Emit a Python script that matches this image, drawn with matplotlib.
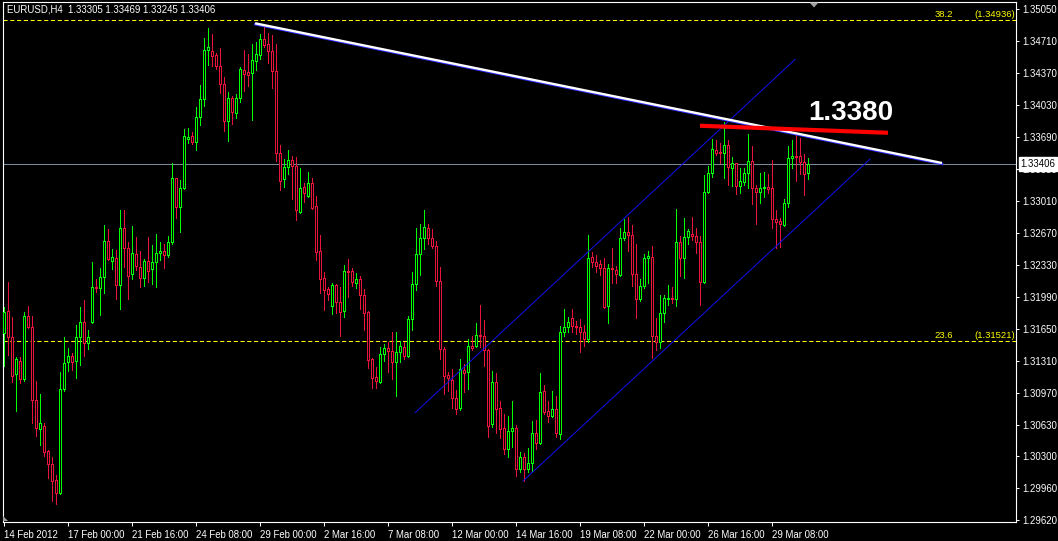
import matplotlib
matplotlib.use('Agg')
import matplotlib.pyplot as plt
import matplotlib.transforms as mtransforms
from matplotlib.patches import Polygon

# EURUSD H4 candles (bar 0 = 14 Feb 2012 08:00)
opens = [
    1.3161, 1.3184, 1.3156, 1.3117, 1.3131, 1.3112, 1.3179, 1.3167, 1.3090, 1.3059,
    1.3062, 1.3035, 1.3022, 1.3005, 1.2991, 1.3101, 1.3130, 1.3136, 1.3131, 1.3157,
    1.3172, 1.3150, 1.3172, 1.3210, 1.3209, 1.3220, 1.3259, 1.3237, 1.3240, 1.3212,
    1.3272, 1.3251, 1.3224, 1.3245, 1.3231, 1.3219, 1.3237, 1.3229, 1.3236, 1.3246,
    1.3248, 1.3244, 1.3257, 1.3326, 1.3295, 1.3315, 1.3367, 1.3370, 1.3364, 1.3390,
    1.3410, 1.3462, 1.3461, 1.3456, 1.3445, 1.3425, 1.3386, 1.3411, 1.3395, 1.3411,
    1.3440, 1.3438, 1.3437, 1.3450, 1.3456, 1.3473, 1.3468, 1.3461, 1.3439, 1.3352,
    1.3325, 1.3337, 1.3345, 1.3338, 1.3289, 1.3316, 1.3306, 1.3320, 1.3296, 1.3248,
    1.3219, 1.3208, 1.3189, 1.3212, 1.3194, 1.3184, 1.3227, 1.3227, 1.3214, 1.3218,
    1.3201, 1.3183, 1.3133, 1.3114, 1.3109, 1.3138, 1.3145, 1.3142, 1.3130, 1.3141,
    1.3146, 1.3136, 1.3176, 1.3213, 1.3245, 1.3262, 1.3272, 1.3262, 1.3253, 1.3216,
    1.3144, 1.3116, 1.3111, 1.3092, 1.3081, 1.3121, 1.3119, 1.3147, 1.3147, 1.3159,
    1.3158, 1.3143, 1.3064, 1.3109, 1.3081, 1.3060, 1.3037, 1.3057, 1.3060, 1.3016,
    1.3029, 1.3016, 1.3023, 1.3054, 1.3044, 1.3099, 1.3078, 1.3073, 1.3080, 1.3053,
    1.3162, 1.3167, 1.3177, 1.3168, 1.3167, 1.3162, 1.3154, 1.3242, 1.3236, 1.3234,
    1.3230, 1.3189, 1.3230, 1.3228, 1.3222, 1.3262, 1.3268, 1.3265, 1.3224, 1.3197,
    1.3211, 1.3240, 1.3242, 1.3158, 1.3151, 1.3182, 1.3197, 1.3198, 1.3197, 1.3258,
    1.3240, 1.3263, 1.3266, 1.3264, 1.3257, 1.3215, 1.3311, 1.3331, 1.3355, 1.3353,
    1.3352, 1.3361, 1.3336, 1.3341, 1.3317, 1.3321, 1.3331, 1.3344, 1.3315, 1.3311,
    1.3315, 1.3316, 1.3315, 1.3282, 1.3280, 1.3276, 1.3299, 1.3347, 1.3349, 1.3349,
    1.3343, 1.33305,
]
highs = [
    1.3188, 1.3215, 1.3178, 1.3135, 1.3135, 1.3183, 1.3189, 1.3179, 1.3110, 1.3096,
    1.3065, 1.3036, 1.3029, 1.3010, 1.3119, 1.3157, 1.3145, 1.3140, 1.3169, 1.3188,
    1.3196, 1.3164, 1.3236, 1.3218, 1.3230, 1.3276, 1.3271, 1.3250, 1.3249, 1.3292,
    1.3291, 1.3258, 1.3275, 1.3263, 1.3248, 1.3239, 1.3263, 1.3254, 1.3266, 1.3258,
    1.3255, 1.3264, 1.3341, 1.3326, 1.3323, 1.3378, 1.3379, 1.3374, 1.3401, 1.3424,
    1.3474, 1.3485, 1.3479, 1.3458, 1.3464, 1.3433, 1.3417, 1.3413, 1.3415, 1.3444,
    1.3462, 1.3457, 1.3468, 1.3470, 1.3479, 1.3486, 1.3480, 1.3478, 1.3468, 1.3361,
    1.3346, 1.3355, 1.3349, 1.3348, 1.3336, 1.3320, 1.3332, 1.3326, 1.3306, 1.3265,
    1.3226, 1.3210, 1.3214, 1.3213, 1.3210, 1.3233, 1.3239, 1.3230, 1.3225, 1.3221,
    1.3208, 1.3184, 1.3134, 1.3125, 1.3146, 1.3149, 1.3151, 1.3162, 1.3162, 1.3152,
    1.3151, 1.3179, 1.3226, 1.3272, 1.3277, 1.3291, 1.3277, 1.3271, 1.3259, 1.3231,
    1.3146, 1.3119, 1.3122, 1.3100, 1.3133, 1.3128, 1.3154, 1.3158, 1.3171, 1.3191,
    1.3175, 1.3144, 1.3120, 1.3118, 1.3088, 1.3075, 1.3073, 1.3088, 1.3063, 1.3034,
    1.3033, 1.3039, 1.3067, 1.3068, 1.3118, 1.3106, 1.3088, 1.3099, 1.3094, 1.3168,
    1.3186, 1.3178, 1.3186, 1.3174, 1.3176, 1.3169, 1.3265, 1.3247, 1.3244, 1.3238,
    1.3240, 1.3234, 1.3251, 1.3232, 1.3272, 1.3282, 1.3284, 1.3276, 1.3255, 1.3218,
    1.3245, 1.3248, 1.3253, 1.3177, 1.3201, 1.3201, 1.3212, 1.3210, 1.3293, 1.3264,
    1.3283, 1.3271, 1.3284, 1.3272, 1.3264, 1.3329, 1.3338, 1.3367, 1.3366, 1.3363,
    1.3385, 1.3366, 1.3348, 1.3342, 1.3336, 1.3336, 1.3372, 1.3360, 1.3318, 1.3331,
    1.3332, 1.3330, 1.3345, 1.3291, 1.3283, 1.3303, 1.3360, 1.3366, 1.3372, 1.3368,
    1.3351, 1.33469,
]
lows = [
    1.3126, 1.3137, 1.3109, 1.3078, 1.3108, 1.3110, 1.3166, 1.3065, 1.3051, 1.3042,
    1.3030, 1.3007, 1.2982, 1.2979, 1.2990, 1.3099, 1.3120, 1.3121, 1.3113, 1.3127,
    1.3136, 1.3144, 1.3171, 1.3204, 1.3180, 1.3203, 1.3238, 1.3229, 1.3197, 1.3186,
    1.3231, 1.3197, 1.3218, 1.3228, 1.3210, 1.3211, 1.3215, 1.3213, 1.3210, 1.3238,
    1.3230, 1.3242, 1.3255, 1.3283, 1.3268, 1.3314, 1.3363, 1.3362, 1.3355, 1.3382,
    1.3402, 1.3446, 1.3445, 1.3441, 1.3416, 1.3375, 1.3365, 1.3383, 1.3389, 1.3406,
    1.3418, 1.3423, 1.3387, 1.3440, 1.3452, 1.3465, 1.3448, 1.3421, 1.3344, 1.3313,
    1.3316, 1.3330, 1.3303, 1.3281, 1.3288, 1.3300, 1.3305, 1.3293, 1.3238, 1.3203,
    1.3185, 1.3196, 1.3181, 1.3182, 1.3158, 1.3178, 1.3199, 1.3211, 1.3209, 1.3186,
    1.3164, 1.3124, 1.3102, 1.3102, 1.3108, 1.3131, 1.3119, 1.3112, 1.3094, 1.3130,
    1.3133, 1.3135, 1.3164, 1.3206, 1.3222, 1.3250, 1.3255, 1.3251, 1.3211, 1.3133,
    1.3096, 1.3099, 1.3081, 1.3075, 1.3079, 1.3098, 1.3101, 1.3143, 1.3146, 1.3146,
    1.3126, 1.3050, 1.3061, 1.3054, 1.3049, 1.3032, 1.3029, 1.3040, 1.3009, 1.3013,
    1.3003, 1.3013, 1.3014, 1.3037, 1.3043, 1.3075, 1.3066, 1.3072, 1.3050, 1.3048,
    1.3158, 1.3162, 1.3162, 1.3160, 1.3141, 1.3147, 1.3151, 1.3231, 1.3226, 1.3222,
    1.3187, 1.3171, 1.3214, 1.3214, 1.3221, 1.3260, 1.3248, 1.3211, 1.3177, 1.3195,
    1.3209, 1.3214, 1.3134, 1.3143, 1.3145, 1.3172, 1.3191, 1.3193, 1.3189, 1.3221,
    1.3219, 1.3255, 1.3260, 1.3246, 1.3191, 1.3214, 1.3310, 1.3327, 1.3350, 1.3342,
    1.3326, 1.3318, 1.3317, 1.3309, 1.3310, 1.3318, 1.3315, 1.3298, 1.3277, 1.3299,
    1.3305, 1.3310, 1.3272, 1.3251, 1.3252, 1.3275, 1.3295, 1.3336, 1.3322, 1.3330,
    1.3308, 1.33245,
]
closes = [
    1.3183, 1.3156, 1.3115, 1.3133, 1.3112, 1.3179, 1.3167, 1.3090, 1.3060, 1.3065,
    1.3034, 1.3022, 1.3003, 1.2991, 1.3101, 1.3129, 1.3136, 1.3130, 1.3157, 1.3172,
    1.3150, 1.3156, 1.3210, 1.3209, 1.3220, 1.3259, 1.3239, 1.3242, 1.3212, 1.3272,
    1.3251, 1.3221, 1.3246, 1.3232, 1.3219, 1.3237, 1.3227, 1.3236, 1.3246, 1.3248,
    1.3244, 1.3257, 1.3326, 1.3295, 1.3315, 1.3370, 1.3369, 1.3364, 1.3390, 1.3410,
    1.3462, 1.3465, 1.3455, 1.3445, 1.3425, 1.3386, 1.3411, 1.3396, 1.3411, 1.3441,
    1.3436, 1.3435, 1.3451, 1.3457, 1.3473, 1.3467, 1.3461, 1.3439, 1.3352, 1.3322,
    1.3337, 1.3345, 1.3338, 1.3291, 1.3315, 1.3310, 1.3320, 1.3294, 1.3247, 1.3218,
    1.3206, 1.3202, 1.3212, 1.3194, 1.3183, 1.3227, 1.3226, 1.3215, 1.3218, 1.3201,
    1.3182, 1.3132, 1.3113, 1.3110, 1.3138, 1.3145, 1.3142, 1.3130, 1.3141, 1.3147,
    1.3136, 1.3176, 1.3213, 1.3245, 1.3262, 1.3273, 1.3262, 1.3253, 1.3216, 1.3144,
    1.3115, 1.3113, 1.3092, 1.3080, 1.3122, 1.3118, 1.3147, 1.3145, 1.3159, 1.3158,
    1.3143, 1.3062, 1.3109, 1.3080, 1.3059, 1.3037, 1.3057, 1.3060, 1.3016, 1.3029,
    1.3016, 1.3023, 1.3054, 1.3044, 1.3098, 1.3077, 1.3073, 1.3080, 1.3054, 1.3162,
    1.3167, 1.3172, 1.3168, 1.3167, 1.3162, 1.3154, 1.3240, 1.3236, 1.3232, 1.3230,
    1.3188, 1.3230, 1.3229, 1.3224, 1.3262, 1.3268, 1.3265, 1.3224, 1.3197, 1.3211,
    1.3240, 1.3243, 1.3158, 1.3151, 1.3182, 1.3198, 1.3198, 1.3197, 1.3258, 1.3240,
    1.3263, 1.3269, 1.3264, 1.3257, 1.3215, 1.3311, 1.3331, 1.3356, 1.3352, 1.3352,
    1.3361, 1.3337, 1.3341, 1.3317, 1.3322, 1.3331, 1.3344, 1.3315, 1.3311, 1.3315,
    1.3316, 1.3314, 1.3282, 1.3279, 1.3277, 1.3299, 1.3347, 1.3349, 1.3348, 1.3343,
    1.3330, 1.33406,
]

price_ticks = [1.35050, 1.34710, 1.34370, 1.34030, 1.33690, 1.33350, 1.33010, 1.32670,
               1.32330, 1.31990, 1.31650, 1.31310, 1.30970, 1.30630, 1.30300, 1.29960, 1.29620]
time_labels = ['14 Feb 2012', '17 Feb 00:00', '21 Feb 16:00', '24 Feb 08:00', '29 Feb 00:00',
               '2 Mar 16:00', '7 Mar 08:00', '12 Mar 00:00', '14 Mar 16:00', '19 Mar 08:00',
               '22 Mar 00:00', '26 Mar 16:00', '29 Mar 08:00']

fib_levels = [1.34936, 1.31521]
fib_names = ['38.2', '23.6']
last_price = 1.33406

# drawn objects (bar index, price)
trend_bars = [62.9, 234.6]
trend_prices = [1.34900, 1.33415]
chan_up_bars = [102.9, 197.9]
chan_up_prices = [1.30761, 1.34517]
chan_lo_bars = [129.9, 216.6]
chan_lo_prices = [1.30035, 1.33457]
res_bars = [174.1, 221.1]
res_prices = [1.33811, 1.33736]
res_label = '1.3380'

BULL = '#00FF00'
BEAR = '#E8143C'
W, H = 1058, 541

fig = plt.figure(figsize=(W / 100, H / 100), dpi=100, facecolor='black')
ax = fig.add_axes([2.5 / W, 19 / H, 1013.5 / W, 520 / H])
ax.set_facecolor('black')

idx = list(range(len(opens)))
cols = [BULL if c > o else BEAR for o, c in zip(opens, closes)]
bottoms = [min(o, c) for o, c in zip(opens, closes)]
heights = [max(abs(c - o), 0.00002) for o, c in zip(opens, closes)]

# hollow bodies: coloured outline, black inside
ax.vlines(idx, lows, highs, colors=cols, linewidth=0.72, antialiased=False, zorder=2)
ax.bar(idx, heights, bottom=bottoms, width=0.5, color='black', edgecolor=cols,
       linewidth=0.72, antialiased=False, zorder=3)

# fibo levels
bt = mtransforms.blended_transform_factory(ax.transAxes, ax.transData)
for lvl, name in zip(fib_levels, fib_names):
    ax.axhline(lvl, color='#FFFF00', linewidth=0.75, linestyle=(0, (4, 2.5)), zorder=1)
    ax.text(0.9378, lvl + 0.00012, name, transform=bt, color='#FFFF00', fontsize=6.8,
            family='Liberation Sans', ha='right', va='bottom')
    ax.text(0.9995, lvl + 0.00012, '(%.5f)' % lvl, transform=bt, color='#FFFF00',
            fontsize=6.8, family='Liberation Sans', ha='right', va='bottom')

# current price line
ax.axhline(last_price, color='#778899', linewidth=0.75, zorder=1)

# channel
ax.plot(chan_up_bars, chan_up_prices, color='#1010F0', linewidth=0.7, zorder=4)
ax.plot(chan_lo_bars, chan_lo_prices, color='#1010F0', linewidth=0.7, zorder=4)

# trendline (white, blue shade below)
shift = mtransforms.offset_copy(ax.transData, fig=fig, x=0, y=-1, units='dots')
ax.plot(trend_bars, trend_prices, color='#3030FF', linewidth=1.7, transform=shift, zorder=5)
ax.plot(trend_bars, trend_prices, color='white', linewidth=1.7, zorder=6,
        solid_capstyle='butt')

# resistance
ax.plot(res_bars, res_prices, color='#FF0000', linewidth=3.0, zorder=7, solid_capstyle='butt')
ax.text(211.9, 1.33945, res_label, color='white', fontsize=20, fontweight='bold',
        family='Liberation Sans', ha='center', va='center', zorder=8)

ax.set_xlim(-0.25, 253.1)
ax.set_ylim(1.295987, 1.351263)

for s in ax.spines.values():
    s.set_color('white')
    s.set_linewidth(0.8)

ax.yaxis.tick_right()
ax.set_yticks(price_ticks)
ax.set_yticklabels(['%.5f' % p for p in price_ticks])
ax.tick_params(axis='y', colors='white', length=2.5, width=0.75, pad=2, labelsize=6.9)
ax.set_xticks(list(range(0, 16 * len(time_labels), 16)))
ax.set_xticklabels(time_labels, ha='left')
ax.tick_params(axis='x', colors='white', length=3, width=0.75, pad=2.5, labelsize=6.9)
for lab in ax.get_xticklabels() + ax.get_yticklabels():
    lab.set_family('Liberation Sans')

# current price label on the scale
ax.text(1.0045, last_price, '%.5f' % last_price, transform=bt, color='black', fontsize=6.9,
        family='Liberation Sans', ha='left', va='center', zorder=10, clip_on=False,
        bbox=dict(boxstyle='square,pad=0.2', fc='white', ec='white'))

fig.text(7 / W, 1 - 5 / H, 'EURUSD,H4  %.5f %.5f %.5f %.5f' % (opens[-1], highs[-1], lows[-1], closes[-1]),
         color='white', fontsize=6.9, family='Liberation Sans', ha='left', va='top')

# chart shift marker and scale marker
fig.patches.append(Polygon([(809.5 / W, 1 - 2.5 / H), (818.5 / W, 1 - 2.5 / H), (814 / W, 1 - 7.5 / H)],
                           closed=True, transform=fig.transFigure, fc='#A0A0A0', ec='none'))
fig.patches.append(Polygon([(3 / W, 1 - 516 / H), (3 / W, 1 - 521 / H), (8 / W, 1 - 521 / H)],
                           closed=True, transform=fig.transFigure, fc='#A0A0A0', ec='none'))

fig.savefig('out.png', dpi=100, facecolor='black')
